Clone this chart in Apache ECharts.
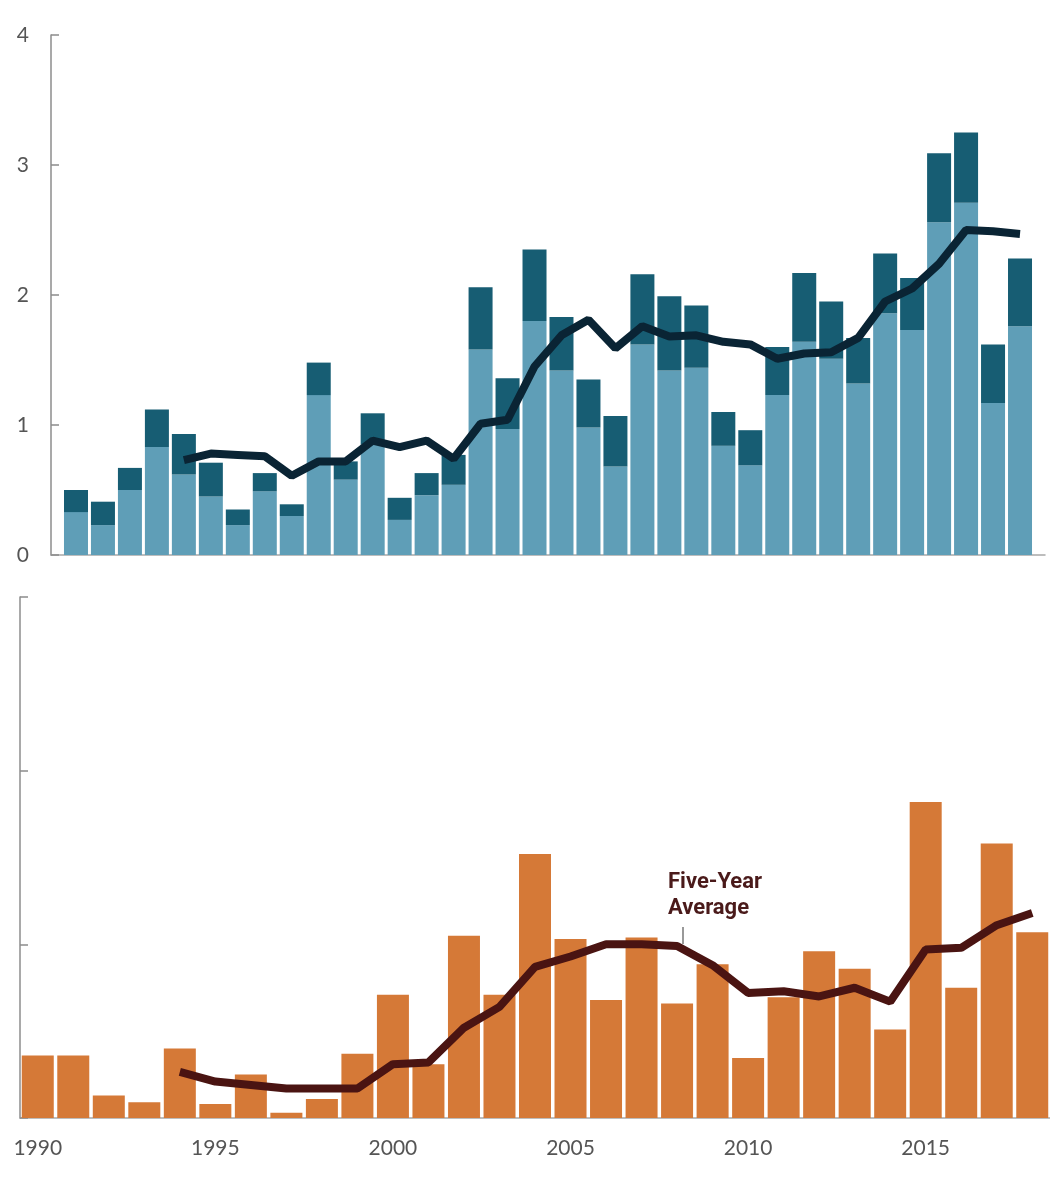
<!DOCTYPE html>
<html>
<head>
<meta charset="utf-8">
<title>Five-Year Average</title>
<script src="https://cdn.jsdelivr.net/npm/echarts@6/dist/echarts.min.js"></script>
<style>
html, body { margin: 0; padding: 0; background: #fff; }
#main { width: 1050px; height: 1200px; }
</style>
</head>
<body>
<div id="main"></div>
<script type="text/javascript">
// top panel: 1983-2018, two stacked parts + five-year average
var topYears = ['1983', '1984', '1985', '1986', '1987', '1988', '1989', '1990', '1991', '1992', '1993', '1994',
    '1995', '1996', '1997', '1998', '1999', '2000', '2001', '2002', '2003', '2004', '2005', '2006',
    '2007', '2008', '2009', '2010', '2011', '2012', '2013', '2014', '2015', '2016', '2017', '2018'];
var topLight = [0.33, 0.23, 0.50, 0.83, 0.62, 0.45, 0.23, 0.49, 0.30, 1.23, 0.58, 0.85,
    0.27, 0.46, 0.54, 1.58, 0.97, 1.80, 1.42, 0.98, 0.68, 1.62, 1.42, 1.44,
    0.84, 0.69, 1.23, 1.64, 1.51, 1.32, 1.86, 1.73, 2.56, 2.71, 1.17, 1.76];
var topDark = [0.17, 0.18, 0.17, 0.29, 0.31, 0.26, 0.12, 0.14, 0.09, 0.25, 0.14, 0.24,
    0.17, 0.17, 0.23, 0.48, 0.39, 0.55, 0.41, 0.37, 0.39, 0.54, 0.57, 0.48,
    0.26, 0.27, 0.37, 0.53, 0.44, 0.35, 0.46, 0.40, 0.53, 0.54, 0.45, 0.52];
var topAvg = ['-', '-', '-', '-', 0.73, 0.78, 0.77, 0.76, 0.61, 0.72, 0.72, 0.88,
    0.83, 0.88, 0.74, 1.01, 1.04, 1.45, 1.69, 1.81, 1.59, 1.76, 1.68, 1.69,
    1.64, 1.62, 1.51, 1.55, 1.56, 1.67, 1.95, 2.05, 2.24, 2.50, 2.49, 2.47];
var topTicks = [0, 1, 2, 3, 4];

// bottom panel: 1990-2018
var bottomYears = ['1990', '1991', '1992', '1993', '1994', '1995', '1996', '1997', '1998', '1999',
    '2000', '2001', '2002', '2003', '2004', '2005', '2006', '2007', '2008', '2009',
    '2010', '2011', '2012', '2013', '2014', '2015', '2016', '2017', '2018'];
var bottomBars = [0.36, 0.36, 0.13, 0.09, 0.40, 0.08, 0.25, 0.03, 0.11, 0.37,
    0.71, 0.31, 1.05, 0.71, 1.52, 1.03, 0.68, 1.04, 0.66, 0.885,
    0.345, 0.695, 0.96, 0.86, 0.51, 1.82, 0.75, 1.58, 1.07];
var bottomAvg = ['-', '-', '-', '-', 0.265, 0.21, 0.19, 0.17, 0.17, 0.17,
    0.31, 0.32, 0.52, 0.64, 0.87, 0.93, 1.00, 1.00, 0.99, 0.88,
    0.72, 0.73, 0.70, 0.75, 0.67, 0.97, 0.98, 1.11, 1.18];

var axisGray = '#8c8c8c';
var textGray = '#555555';

var chart = echarts.init(document.getElementById('main'));
var option = {
    backgroundColor: '#ffffff',
    animation: false,
    grid: [
        {left: 62.5, top: 35, width: 971, height: 520},   // top bars
        {left: 20, top: 597, width: 1030, height: 521},   // bottom bars
        {left: 51, top: 35, width: 994, height: 520}      // top frame (axes only)
    ],
    xAxis: [{
        gridIndex: 0,
        type: 'category',
        data: topYears,
        axisLine: {show: false},
        axisTick: {show: false},
        axisLabel: {show: false}
    }, {
        gridIndex: 1,
        type: 'category',
        data: bottomYears,
        axisLine: {show: true, lineStyle: {color: '#a8a8a8', width: 1.5}},
        axisTick: {show: false},
        axisLabel: {
            interval: 4,
            margin: 20,
            color: textGray,
            fontFamily: 'Lato',
            fontSize: 21
        }
    }, {
        gridIndex: 2,
        type: 'value',
        min: 0,
        max: 1,
        axisLine: {show: true, lineStyle: {color: '#a8a8a8', width: 1.5}},
        axisTick: {show: false},
        axisLabel: {show: false},
        splitLine: {show: false}
    }],
    yAxis: [{
        gridIndex: 0,
        type: 'value',
        min: topTicks[0],
        max: topTicks[topTicks.length - 1],
        interval: 1,
        show: false
    }, {
        gridIndex: 1,
        type: 'value',
        min: 0,
        max: 3,
        interval: 1,
        axisLine: {show: true, lineStyle: {color: axisGray, width: 1.5}},
        axisTick: {show: true, inside: true, length: 8, lineStyle: {color: axisGray, width: 1.5}},
        axisLabel: {show: false},
        splitLine: {show: false}
    }, {
        gridIndex: 2,
        type: 'value',
        min: topTicks[0],
        max: topTicks[topTicks.length - 1],
        interval: 1,
        axisLine: {show: true, lineStyle: {color: axisGray, width: 1.5}},
        axisTick: {show: true, inside: true, length: 8, lineStyle: {color: axisGray, width: 1.5}},
        axisLabel: {margin: 22, color: textGray, fontFamily: 'Lato', fontSize: 21},
        splitLine: {show: false}
    }],
    series: [{
        type: 'bar',
        xAxisIndex: 0,
        yAxisIndex: 0,
        stack: 'top',
        barWidth: 24,
        itemStyle: {color: '#5f9eb7'},
        data: topLight
    }, {
        type: 'bar',
        xAxisIndex: 0,
        yAxisIndex: 0,
        stack: 'top',
        barWidth: 24,
        itemStyle: {color: '#175d73'},
        data: topDark
    }, {
        type: 'line',
        xAxisIndex: 0,
        yAxisIndex: 0,
        symbol: 'none',
        lineStyle: {color: '#0a2434', width: 8},
        data: topAvg
    }, {
        type: 'bar',
        xAxisIndex: 1,
        yAxisIndex: 1,
        barWidth: 32,
        itemStyle: {color: '#d57937'},
        data: bottomBars
    }, {
        type: 'line',
        xAxisIndex: 1,
        yAxisIndex: 1,
        symbol: 'none',
        lineStyle: {color: '#4a1412', width: 8},
        data: bottomAvg
    }],
    graphic: [{
        type: 'text',
        left: 668,
        top: 869,
        style: {
            text: 'Five-Year\nAverage',
            fill: '#4a1a1a',
            font: 'bold 22px Roboto',
            lineHeight: 26
        }
    }, {
        type: 'line',
        shape: {x1: 683, y1: 927, x2: 683, y2: 944},
        style: {stroke: '#555555', lineWidth: 1.2}
    }]
};
chart.setOption(option);
</script>
</body>
</html>
